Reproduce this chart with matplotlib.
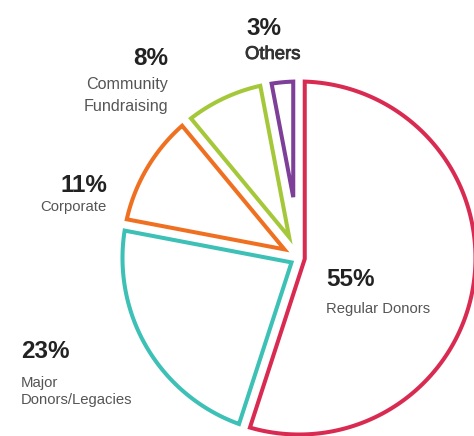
import numpy as np
import matplotlib.pyplot as plt
import matplotlib.patheffects as pe
from matplotlib.patches import Polygon

plt.rcParams['font.family'] = ['Liberation Sans', 'DejaVu Sans']

# income sources, clockwise from 12 o'clock
sources = ['Regular Donors', 'Major\nDonors/Legacies', 'Corporate',
           'Community\nFundraising', 'Others']
shares = [55, 23, 11, 8, 3]
colors = ['#d92b52', '#3dc0b5', '#f07022', '#a5c83a', '#7d3f98']

W, H = 474, 436
cx, cy, R = 299, 258, 176.5   # pie centre and radius (pixels, y down)
gap = 11.5                    # white gap between neighbouring slices
lw = 2.9

fig = plt.figure(figsize=(W / 100, H / 100), dpi=100)
ax = fig.add_axes([0, 0, 1, 1])
ax.set_xlim(0, W)
ax.set_ylim(H, 0)
ax.axis('off')


def slice_points(t1, t2):
    # slice from angle t1 clockwise to t2 (degrees), both edges pulled
    # inwards by gap/2 so every slice sits apart by the same width
    half = np.radians(t1 - t2) / 2
    mid = np.radians(t1 + t2) / 2
    d = (gap / 2) / np.sin(half)
    tip = (cx + d * np.cos(mid), cy - d * np.sin(mid))
    delta = np.arcsin((gap / 2) / R)
    th = np.linspace(np.radians(t1) - delta, np.radians(t2) + delta, 200)
    xs = np.r_[tip[0], cx + R * np.cos(th)]
    ys = np.r_[tip[1], cy - R * np.sin(th)]
    return np.column_stack([xs, ys])


bounds = 90 - 360 * np.r_[0, np.cumsum(shares)] / sum(shares)
for i, c in enumerate(colors):
    pts = slice_points(bounds[i], bounds[i + 1])
    ax.add_patch(Polygon(pts, closed=True, facecolor='white', edgecolor=c,
                         lw=lw, joinstyle='miter'))

# label layout: anchor x, baseline of the percentage, baseline of first text line
layout = [
    (326, 286, 313.3, 'left'),
    (21, 358.3, 386.7, 'left'),
    (107, 191.7, 210.7, 'right'),
    (168, 65, 89, 'right'),
    (246, 35, 59, 'left'),
]

for i, (x, yp, yl, ha) in enumerate(layout):
    ax.text(x, yp, f'{shares[i]}%', ha=ha, va='baseline', fontsize=17.5,
            fontweight='bold', color='#222222')
    if sources[i] == 'Others':
        ax.text(x - 1, yl, sources[i], ha=ha, va='baseline', fontsize=13.3,
                color='#333333',
                path_effects=[pe.withStroke(linewidth=0.6, foreground='#333333')])
        continue
    size = 11.6 if i == 3 else 10.7
    for k, line in enumerate(sources[i].split('\n')):
        ax.text(x, yl + k * 17.5 + (4 * k if i == 3 else 0), line, ha=ha,
                va='baseline', fontsize=size, color='#555555')

fig.savefig('out.png', dpi=100)
